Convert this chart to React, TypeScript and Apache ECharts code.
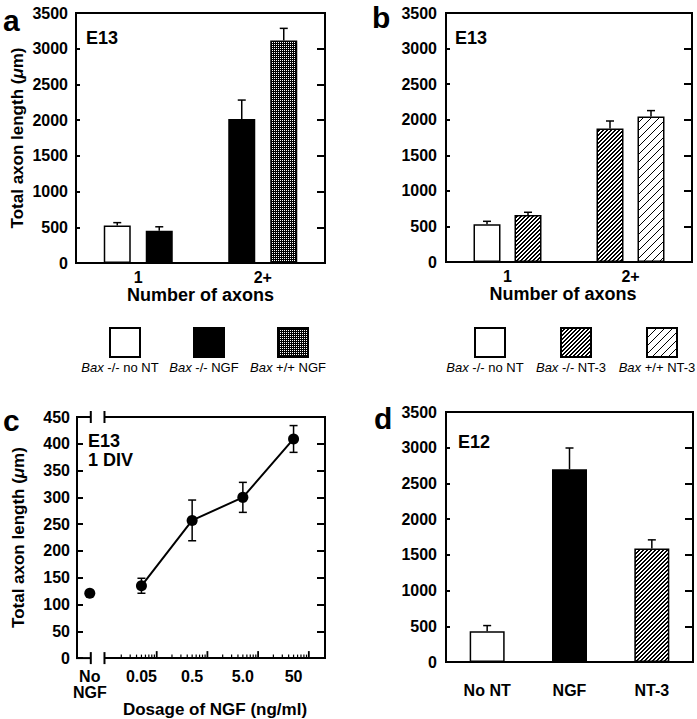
import React, { useEffect, useRef } from 'react';
import * as echarts from 'echarts';

const FONT = '"Liberation Sans", Arial, Helvetica, sans-serif';

// ---------- Panel a ----------
const aCategories = ['1', '2+'];
const aSeriesNames = ['Bax -/- no NT', 'Bax -/- NGF', 'Bax +/+ NGF'];
const aNoNT = [525, null];
const aNoNTErr = [40, null];
const aNGFko = [452, 2016];
const aNGFkoErr = [55, 265];
const aNGFwt = [null, 3115];
const aNGFwtErr = [null, 170];

// ---------- Panel b ----------
const bCategories = ['1', '2+'];
const bSeriesNames = ['Bax -/- no NT', 'Bax -/- NT-3', 'Bax +/+ NT-3'];
const bNoNT = [530, null];
const bNoNTErr = [42, null];
const bNT3ko = [661, 1875];
const bNT3koErr = [38, 107];
const bNT3wt = [null, 2044];
const bNT3wtErr = [null, 84];

// ---------- Panel c ----------
const cDoses = [0.05, 0.5, 5, 50];
const cDoseLabels = ['0.05', '0.5', '5.0', '50'];
const cMeans = [135, 257, 300, 409];
const cErrs = [14, 38, 28, 25];
const cNoNGFLabel = 'No\nNGF';
const cNoNGFMean = 121;
const cDecadeTicks = [0.1, 1, 10, 100];
const cMinorMultipliers = [2, 3, 4, 5, 6, 7, 8, 9];
const cMinorDecades = [0.01, 0.1, 1, 10];

// ---------- Panel d ----------
const dCategories = ['No NT', 'NGF', 'NT-3'];
const dMeans = [430, 2700, 1590];
const dErrs = [80, 296, 120];

// ---------- layout / style constants ----------
const C_MIN = -2.572;
const C_MAX = 2.319;
const NO_NGF_POS = -2.32;
const BREAK_L = -2.3;
const BREAK_R = -2.03;

const BLACK = '#000';

function makePattern(size: number, isBlack: (x: number, y: number) => boolean) {
  const c = document.createElement('canvas');
  c.width = size;
  c.height = size;
  const ctx = c.getContext('2d')!;
  const img = ctx.createImageData(size, size);
  for (let y = 0; y < size; y++) {
    for (let x = 0; x < size; x++) {
      const v = isBlack(x, y) ? 0 : 255;
      const i = (y * size + x) * 4;
      img.data[i] = v;
      img.data[i + 1] = v;
      img.data[i + 2] = v;
      img.data[i + 3] = 255;
    }
  }
  ctx.putImageData(img, 0, 0);
  return { image: c, repeat: 'repeat' } as any;
}

function txt(extra: any = {}) {
  return { color: BLACK, fontFamily: FONT, fontWeight: 'bold', fontSize: 16, ...extra };
}

function buildOption() {
  const fillWhite = '#fff';
  const fillBlack = '#000';
  const fillDots = makePattern(2, (x, y) => !(x === 0 && y === 0));
  const fillHatchDense = makePattern(4, (x, y) => (x + y) % 4 < 2);
  const fillHatchLight = makePattern(8, (x, y) => (x + y) % 8 === 0);

  const aSeries = [
    { name: aSeriesNames[0], values: aNoNT, errs: aNoNTErr, fill: fillWhite },
    { name: aSeriesNames[1], values: aNGFko, errs: aNGFkoErr, fill: fillBlack },
    { name: aSeriesNames[2], values: aNGFwt, errs: aNGFwtErr, fill: fillDots },
  ];
  const bSeries = [
    { name: bSeriesNames[0], values: bNoNT, errs: bNoNTErr, fill: fillWhite },
    { name: bSeriesNames[1], values: bNT3ko, errs: bNT3koErr, fill: fillHatchDense },
    { name: bSeriesNames[2], values: bNT3wt, errs: bNT3wtErr, fill: fillHatchLight },
  ];
  const dFills = [fillWhite, fillBlack, fillHatchDense];

  // Build slot-based (centered) grouped bars from the series arrays
  function slotted(cats: string[], list: any[]) {
    const nSlots = Math.max(...cats.map((_, ci) => list.filter((s) => s.values[ci] != null).length));
    const slots: any[][] = Array.from({ length: nSlots }, () => cats.map(() => '-'));
    const errs: any[] = [];
    cats.forEach((_, ci) => {
      const present = list.filter((s) => s.values[ci] != null);
      present.forEach((s, si) => {
        slots[si][ci] = { value: s.values[ci], name: s.name, itemStyle: { color: s.fill } };
        errs.push([ci, s.values[ci], s.errs[ci], si, present.length]);
      });
    });
    return { slots, errs };
  }

  const errRender = (barW: number, gapPx: number, capW: number, both: boolean) => (params: any, api: any) => {
    const ci = api.value(0);
    const m = api.value(1);
    const e = api.value(2);
    const slot = api.value(3);
    const n = api.value(4);
    const base = api.coord([ci, m]);
    const top = api.coord([ci, m + e]);
    const bot = api.coord([ci, m - e]);
    const off = (slot - (n - 1) / 2) * (barW + gapPx);
    const x = base[0] + off;
    const st = { stroke: BLACK, lineWidth: 1.5 };
    const children: any[] = [
      { type: 'line', shape: { x1: x, y1: both ? bot[1] : base[1], x2: x, y2: top[1] }, style: st },
      { type: 'line', shape: { x1: x - capW / 2, y1: top[1], x2: x + capW / 2, y2: top[1] }, style: st },
    ];
    if (both) {
      children.push({ type: 'line', shape: { x1: x - capW / 2, y1: bot[1], x2: x + capW / 2, y2: bot[1] }, style: st });
    }
    return { type: 'group', children };
  };

  const A_BW = 27, A_GAP = 15;
  const B_BW = 27, B_GAP = 14;
  const D_BW = 35;

  const aS = slotted(aCategories, aSeries);
  const bS = slotted(bCategories, bSeries);

  const barItem = { borderColor: BLACK, borderWidth: 1.5 };

  const series: any[] = [];
  aS.slots.forEach((data) => {
    series.push({
      type: 'bar', xAxisIndex: 0, yAxisIndex: 0, barWidth: A_BW, barGap: (A_GAP / A_BW) * 100 + '%',
      itemStyle: barItem, data,
    });
  });
  series.push({
    type: 'custom', xAxisIndex: 0, yAxisIndex: 0, z: 5,
    renderItem: errRender(A_BW, A_GAP, 8, false), data: aS.errs,
  });
  bS.slots.forEach((data) => {
    series.push({
      type: 'bar', xAxisIndex: 1, yAxisIndex: 2, barWidth: B_BW, barGap: (B_GAP / B_BW) * 100 + '%',
      itemStyle: barItem, data,
    });
  });
  series.push({
    type: 'custom', xAxisIndex: 1, yAxisIndex: 2, z: 5,
    renderItem: errRender(B_BW, B_GAP, 8, false), data: bS.errs,
  });

  // Panel c
  series.push({
    type: 'line', xAxisIndex: 2, yAxisIndex: 4, z: 4,
    data: cDoses.map((d, i) => [Math.log10(d), cMeans[i]]),
    symbol: 'circle', symbolSize: 11,
    itemStyle: { color: BLACK, opacity: 1 },
    lineStyle: { color: BLACK, width: 2 },
  });
  series.push({
    type: 'scatter', xAxisIndex: 2, yAxisIndex: 4, z: 4,
    data: [[NO_NGF_POS, cNoNGFMean]],
    symbol: 'circle', symbolSize: 11,
    itemStyle: { color: BLACK, opacity: 1 },
  });
  series.push({
    type: 'custom', xAxisIndex: 2, yAxisIndex: 4, z: 3,
    renderItem: errRender(0, 0, 8, true),
    data: cDoses.map((d, i) => [Math.log10(d), cMeans[i], cErrs[i], 0, 1]),
  });

  const minorTicks: number[] = [];
  cMinorDecades.forEach((d) => cMinorMultipliers.forEach((m) => minorTicks.push(Math.log10(d * m))));
  const decadeTicks = cDecadeTicks.map((d) => Math.log10(d));

  // Panel c broken frame (top & bottom with axis breaks) + log ticks
  series.push({
    type: 'custom', xAxisIndex: 2, yAxisIndex: 4, z: 2, silent: true,
    data: [[0, 0]],
    renderItem: (params: any, api: any) => {
      const st = { stroke: BLACK, lineWidth: 2 };
      const yTop = api.coord([C_MIN, 450])[1];
      const yBot = api.coord([C_MIN, 0])[1];
      const xL = api.coord([C_MIN, 0])[0];
      const xR = api.coord([C_MAX, 0])[0];
      const b1 = api.coord([BREAK_L, 0])[0];
      const b2 = api.coord([BREAK_R, 0])[0];
      const ch: any[] = [];
      [yTop, yBot].forEach((y) => {
        ch.push({ type: 'line', shape: { x1: xL - 1, y1: y, x2: b1, y2: y }, style: st });
        ch.push({ type: 'line', shape: { x1: b2, y1: y, x2: xR + 1, y2: y }, style: st });
        ch.push({ type: 'line', shape: { x1: b1, y1: y - 6, x2: b1, y2: y + 6 }, style: st });
        ch.push({ type: 'line', shape: { x1: b2, y1: y - 6, x2: b2, y2: y + 6 }, style: st });
      });
      minorTicks.forEach((v) => {
        const x = api.coord([v, 0])[0];
        ch.push({ type: 'line', shape: { x1: x, y1: yBot, x2: x, y2: yBot - 3.5 }, style: { stroke: BLACK, lineWidth: 1.2 } });
      });
      decadeTicks.forEach((v) => {
        const x = api.coord([v, 0])[0];
        ch.push({ type: 'line', shape: { x1: x, y1: yBot, x2: x, y2: yBot - 7 }, style: { stroke: BLACK, lineWidth: 1.8 } });
      });
      return { type: 'group', children: ch };
    },
  });

  // Panel d
  series.push({
    type: 'bar', xAxisIndex: 3, yAxisIndex: 6, barWidth: D_BW, itemStyle: barItem,
    data: dMeans.map((v, i) => ({ value: v, itemStyle: { color: dFills[i] } })),
  });
  series.push({
    type: 'custom', xAxisIndex: 3, yAxisIndex: 6, z: 5,
    renderItem: errRender(D_BW, 0, 8, false),
    data: dMeans.map((v, i) => [i, v, dErrs[i], 0, 1]),
  });

  const line2 = { onZero: false, lineStyle: { color: BLACK, width: 2 } };
  const plain = (v: number) => String(v);
  const leftY = (grid: number, max: number, interval: number, tickLen: number, margin: number, name?: string, nameGap?: number) => ({
    type: 'value', gridIndex: grid, min: 0, max, interval,
    axisLine: { show: true, ...line2 },
    axisTick: { show: true, inside: true, length: tickLen, lineStyle: { color: BLACK, width: 2 } },
    axisLabel: { ...txt(), margin, formatter: plain },
    splitLine: { show: false },
    name, nameLocation: 'middle', nameGap, nameRotate: 90,
    nameTextStyle: {
      ...txt({ fontSize: 17 }),
      rich: { i: { ...txt({ fontSize: 17 }), fontStyle: 'italic' } },
    },
  });
  const rightY = (grid: number, max: number, interval: number) => ({
    type: 'value', gridIndex: grid, position: 'right', min: 0, max, interval,
    axisLine: { show: true, ...line2 },
    axisTick: { show: true, inside: true, length: 8, lineStyle: { color: BLACK, width: 2 } },
    axisLabel: { show: false },
    splitLine: { show: false },
  });

  const cLabelPos = [NO_NGF_POS, ...cDoses.map((d) => Math.log10(d))];
  const cLabelTexts = [cNoNGFLabel, ...cDoseLabels];

  const xAxis: any[] = [
    {
      type: 'category', gridIndex: 0, data: aCategories,
      axisLine: { show: true, ...line2 }, axisTick: { show: false },
      axisLabel: { ...txt(), margin: 6 },
      name: 'Number of axons', nameLocation: 'middle', nameGap: 17,
      nameTextStyle: txt({ fontSize: 18 }),
    },
    {
      type: 'category', gridIndex: 1, data: bCategories,
      axisLine: { show: true, ...line2 }, axisTick: { show: false },
      axisLabel: { ...txt(), margin: 6 },
      name: 'Number of axons', nameLocation: 'middle', nameGap: 15,
      nameTextStyle: { ...txt({ fontSize: 18 }), padding: [0, 12, 0, 0] },
    },
    {
      type: 'value', gridIndex: 2, min: C_MIN, max: C_MAX,
      axisLine: { show: false, onZero: false }, axisTick: { show: false }, splitLine: { show: false },
      axisLabel: {
        ...txt({ lineHeight: 16 }), margin: 10, customValues: cLabelPos, showMinLabel: true, showMaxLabel: true,
        formatter: (v: number) => {
          let best = 0;
          cLabelPos.forEach((p, i) => { if (Math.abs(p - v) < Math.abs(cLabelPos[best] - v)) best = i; });
          return cLabelTexts[best];
        },
      },
      name: 'Dosage of NGF (ng/ml)', nameLocation: 'middle', nameGap: 34,
      nameTextStyle: { ...txt({ fontSize: 17 }), padding: [0, 0, 0, 28] },
    },
    {
      type: 'category', gridIndex: 3, data: dCategories,
      axisLine: { show: true, ...line2 }, axisTick: { show: false },
      axisLabel: { ...txt(), margin: 20 },
    },
  ];

  const yAxis: any[] = [
    leftY(0, 3500, 500, 4, 8, 'Total axon length ({i|μ}m)', 50),
    rightY(0, 3500, 500),
    leftY(1, 3500, 500, 4, 9),
    rightY(1, 3500, 500),
    leftY(2, 450, 50, 6, 7, 'Total axon length ({i|μ}m)', 50),
    rightY(2, 450, 50),
    leftY(3, 3500, 500, 4, 9),
    rightY(3, 3500, 500),
  ];

  const border = { show: true, borderColor: BLACK, borderWidth: 2, backgroundColor: 'transparent' };
  const grid = [
    { left: 76, top: 13, width: 249, height: 250, ...border },
    { left: 446, top: 13, width: 246, height: 249, ...border },
    { left: 77, top: 417, width: 248, height: 249, show: false },
    { left: 446, top: 412, width: 247, height: 250, ...border },
  ];

  // Legends (box above label) built from series names and fills
  const graphic: any[] = [];
  const legend = (list: any[], x0: number, step: number) => {
    list.forEach((s, i) => {
      const x = x0 + i * step;
      graphic.push({
        type: 'rect', shape: { x, y: 328, width: 30, height: 29 },
        style: { fill: s.fill, stroke: BLACK, lineWidth: 2 },
      });
      graphic.push({
        type: 'text', x: x + 15 - 5, y: 367,
        style: {
          text: s.name.replace(/^Bax/, '{i|Bax}'),
          fontFamily: FONT, fontSize: 13, fill: BLACK, align: 'center', verticalAlign: 'middle',
          rich: { i: { fontFamily: FONT, fontSize: 13, fontStyle: 'italic', fill: BLACK } },
        },
      });
    });
  };
  legend(aSeries, 110, 84);
  legend(bSeries, 475, 86);

  const label = (text: string, x: number, y: number, size: number, align = 'left') => ({
    type: 'text', x, y,
    style: { text, fontFamily: FONT, fontWeight: 'bold', fontSize: size, fill: BLACK, align, verticalAlign: 'middle', lineHeight: size },
  });
  graphic.push(label('a', 3, 20, 30));
  graphic.push(label('b', 372, 17, 30));
  graphic.push(label('c', 3, 420, 30));
  graphic.push(label('d', 374, 418, 30));
  graphic.push(label('E13', 86, 38, 18));
  graphic.push(label('E13', 455, 38, 18));
  graphic.push(label('E13', 88, 441, 18));
  graphic.push(label('1 DIV', 88, 460, 18));
  graphic.push(label('E12', 458, 442, 18));

  return {
    animation: false,
    backgroundColor: '#fff',
    textStyle: { fontFamily: FONT },
    grid,
    xAxis,
    yAxis,
    series,
    graphic,
  };
}

export default function App() {
  const ref = useRef<HTMLDivElement>(null);
  useEffect(() => {
    const chart = echarts.init(ref.current!, null, { renderer: 'svg' });
    chart.setOption(buildOption() as any);
    return () => chart.dispose();
  }, []);
  return (
    <div
      ref={ref}
      style={{ position: 'fixed', left: 0, top: 0, width: 697, height: 719, background: '#fff' }}
    />
  );
}
